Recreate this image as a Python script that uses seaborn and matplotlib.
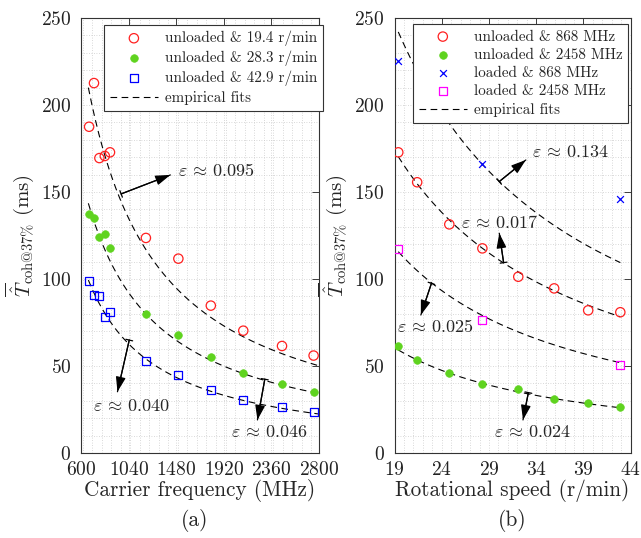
import numpy as np
import pandas as pd
import matplotlib
matplotlib.use("Agg")
import matplotlib.pyplot as plt
import seaborn as sns
from matplotlib.ticker import MultipleLocator, FixedLocator

# ---------------- data ----------------
freq = [675, 720, 770, 820, 868, 1200, 1500, 1800, 2100, 2458, 2750]
T_unl_194 = [187.5, 212.6, 169.5, 170.7, 172.8, 123.6, 111.7, 84.7, 70.3, 61.5, 56.0]
T_unl_283 = [137.2, 135.2, 124.3, 125.7, 117.6, 80.1, 68.0, 55.2, 45.8, 39.5, 34.9]
T_unl_429 = [99.0, 90.6, 90.2, 78.0, 80.9, 52.9, 44.8, 36.4, 30.5, 26.3, 23.4]

speed = [19.4, 21.4, 24.8, 28.3, 32.1, 35.9, 39.5, 42.9]
T_unl_868 = [172.8, 155.6, 131.4, 117.6, 101.3, 94.6, 82.0, 80.9]
T_unl_2458 = [61.5, 53.3, 46.2, 39.7, 36.6, 31.2, 28.6, 26.3]
speed_loaded = [19.4, 28.3, 42.9]
T_ld_868 = [225.1, 166.1, 145.8]
T_ld_2458 = [117.4, 76.4, 50.7]

# empirical fits T = T0 * (x / x0) ** b
fit_a_T0 = [210.0, 143.5, 99.4]
fit_a_b = [-1.0, -1.0, -1.04]
fit_a_x0 = 668
fit_a_range = [668, 2790]
fit_b_T0 = [170.3, 59.2, 242.0, 115.7]
fit_b_b = [-0.979, -1.037, -1.0, -1.01]
fit_b_x0 = 19.4
fit_b_range = [19.4, 42.9]

xticks_a = [600, 1040, 1480, 1920, 2360, 2800]
xticks_b = [19, 24, 29, 34, 39, 44]

eps_a = ["0.095", "0.040", "0.046"]
eps_b = ["0.134", "0.017", "0.025", "0.024"]

# ---------------- style ----------------
sns.set_style("white")
plt.rcParams["font.family"] = ["cmr10", "DejaVu Serif"]
plt.rcParams["mathtext.fontset"] = "cm"
plt.rcParams["axes.formatter.use_mathtext"] = True
plt.rcParams["axes.unicode_minus"] = False

RED = "#ff2020"
GREEN = "#5fd31f"
BLUE = "#0000ff"
MAG = "#ff00ff"

fig = plt.figure(figsize=(6.41, 5.38), dpi=100)
axA = fig.add_axes([81 / 641, 1 - 453 / 538, 238 / 641, 435 / 538])
axB = fig.add_axes([394.5 / 641, 1 - 453 / 538, 236.2 / 641, 435 / 538])

def style_axes(ax):
    ax.set_facecolor("white")
    for s in ax.spines.values():
        s.set_color("#333333")
        s.set_linewidth(0.8)
    ax.tick_params(which="both", direction="in", top=True, right=True,
                   labelsize=14, colors="#222222", width=0.6)
    ax.tick_params(axis="x", which="major", pad=6)
    ax.tick_params(axis="y", which="major", pad=7)
    ax.tick_params(which="major", length=5)
    ax.tick_params(which="minor", length=0)
    ax.grid(True, which="both", linestyle=(0, (1, 2)), color="#cccccc", linewidth=0.6)
    ax.set_axisbelow(True)

# ---------------- panel (a) ----------------
dfA = pd.DataFrame({"freq": freq, "r194": T_unl_194, "r283": T_unl_283, "r429": T_unl_429})
sns.scatterplot(data=dfA, x="freq", y="r194", ax=axA, marker="o", s=45,
                facecolor="none", edgecolor=RED, linewidth=0.9,
                label="unloaded & 19.4 r/min", zorder=3)
sns.scatterplot(data=dfA, x="freq", y="r283", ax=axA, marker="o", s=30,
                color=GREEN, edgecolor=GREEN, linewidth=0.5,
                label="unloaded & 28.3 r/min", zorder=3)
sns.scatterplot(data=dfA, x="freq", y="r429", ax=axA, marker="s", s=32,
                facecolor="none", edgecolor=BLUE, linewidth=0.9,
                label="unloaded & 42.9 r/min", zorder=3)
xf = np.linspace(fit_a_range[0], fit_a_range[1], 200)
for i, (T0, b) in enumerate(zip(fit_a_T0, fit_a_b)):
    sns.lineplot(x=xf, y=T0 * (xf / fit_a_x0) ** b, ax=axA, color="black",
                 linestyle=(0, (6, 4)), linewidth=0.8,
                 label="empirical fits" if i == 0 else None, zorder=2)

axA.set_xlim(600, 2800)
axA.set_ylim(0, 250)
axA.xaxis.set_major_locator(FixedLocator(xticks_a))
axA.xaxis.set_minor_locator(MultipleLocator(88))
axA.yaxis.set_major_locator(MultipleLocator(50))
axA.yaxis.set_minor_locator(MultipleLocator(10))
style_axes(axA)
axA.set_xlabel("Carrier frequency (MHz)", fontsize=15.3, labelpad=0)
axA.set_ylabel(r"$\overline{\hat{T}}_{\mathrm{coh@37\%}}$ (ms)", fontsize=15, labelpad=3)

# ---------------- panel (b) ----------------
dfB = pd.DataFrame({"speed": speed, "u868": T_unl_868, "u2458": T_unl_2458})
dfL = pd.DataFrame({"speed": speed_loaded, "l868": T_ld_868, "l2458": T_ld_2458})
sns.scatterplot(data=dfB, x="speed", y="u868", ax=axB, marker="o", s=45,
                facecolor="none", edgecolor=RED, linewidth=0.9,
                label="unloaded & 868 MHz", zorder=3)
sns.scatterplot(data=dfB, x="speed", y="u2458", ax=axB, marker="o", s=30,
                color=GREEN, edgecolor=GREEN, linewidth=0.5,
                label="unloaded & 2458 MHz", zorder=3)
sns.scatterplot(data=dfL, x="speed", y="l868", ax=axB, marker="x", s=24,
                color=BLUE, linewidth=0.9,
                label="loaded & 868 MHz", zorder=3)
sns.scatterplot(data=dfL, x="speed", y="l2458", ax=axB, marker="s", s=32,
                facecolor="none", edgecolor=MAG, linewidth=0.9,
                label="loaded & 2458 MHz", zorder=3)
xs = np.linspace(fit_b_range[0], fit_b_range[1], 200)
for i, (T0, b) in enumerate(zip(fit_b_T0, fit_b_b)):
    sns.lineplot(x=xs, y=T0 * (xs / fit_b_x0) ** b, ax=axB, color="black",
                 linestyle=(0, (6, 4)), linewidth=0.8,
                 label="empirical fits" if i == 0 else None, zorder=2)

axB.set_xlim(19, 44)
axB.set_ylim(0, 250)
axB.xaxis.set_major_locator(FixedLocator(xticks_b))
axB.xaxis.set_minor_locator(MultipleLocator(1))
axB.yaxis.set_major_locator(MultipleLocator(50))
axB.yaxis.set_minor_locator(MultipleLocator(10))
style_axes(axB)
axB.set_xlabel("Rotational speed (r/min)", fontsize=15.3, labelpad=0)
axB.set_ylabel(r"$\overline{\hat{T}}_{\mathrm{coh@37\%}}$ (ms)", fontsize=15, labelpad=3)

# ---------------- legends ----------------
def make_legend(ax, anchor):
    leg = ax.legend(loc="upper right", bbox_to_anchor=anchor, fontsize=10.9,
                    frameon=True, fancybox=False, edgecolor="#333333",
                    framealpha=1, borderaxespad=0, handlelength=3.2,
                    handletextpad=0.45, labelspacing=0.3, borderpad=0.38)
    leg.get_frame().set_linewidth(0.8)
    return leg

make_legend(axA, (1.017, 0.984))
make_legend(axB, (0.99, 0.986))

# ---------------- annotations ----------------
arrow_head = dict(arrowstyle="-|>,head_length=0.9,head_width=0.3",
                  color="black", lw=0.9, shrinkA=0, shrinkB=0)
arrow_tail = dict(arrowstyle="|-|,widthA=0.25,widthB=0.0",
                  color="black", lw=0.9, shrinkA=0, shrinkB=0)

def eps(ax, label, tail, head, txt, ha):
    ax.annotate("", xy=head, xytext=tail, arrowprops=arrow_head, zorder=4)
    ax.annotate("", xy=head, xytext=tail, arrowprops=arrow_tail, zorder=4)
    ax.text(txt[0], txt[1], r"$\varepsilon\,\approx\," + label + "$", fontsize=13,
            ha=ha, va="center", zorder=4)

eps(axA, eps_a[0], (971, 148.9), (1426, 159.8), (1500, 162.6), "left")
eps(axA, eps_a[1], (1046, 64.9), (937, 35.2), (1064, 27), "center")
eps(axA, eps_a[2], (2299, 42.4), (2231, 19.0), (2336, 12), "center")

eps(axB, eps_b[0], (30.09, 156.0), (32.9, 168.4), (33.56, 173), "left")
eps(axB, eps_b[1], (30.55, 109.4), (30.09, 126.3), (26.07, 132.4), "left")
eps(axB, eps_b[2], (22.91, 97.5), (21.79, 79.3), (23.26, 72.6), "center")
eps(axB, eps_b[3], (33.17, 34.7), (32.6, 19.0), (33.56, 12), "center")

fig.text(195 / 641, 1 - 520 / 538, "(a)", fontsize=15.5, ha="center", va="center")
fig.text(512 / 641, 1 - 520 / 538, "(b)", fontsize=15.5, ha="center", va="center")

fig.savefig("out.png", dpi=100)
